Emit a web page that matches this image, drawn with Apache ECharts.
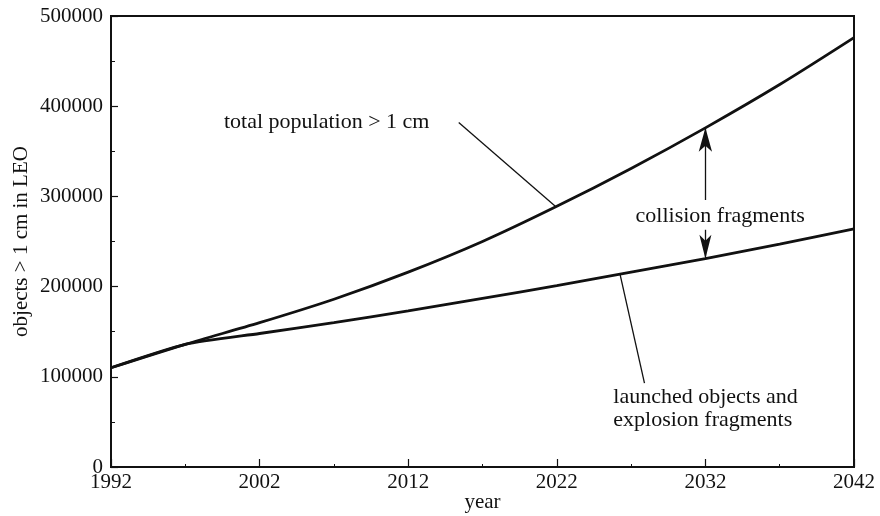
<!DOCTYPE html>
<html>
<head>
<meta charset="utf-8">
<script src="https://cdn.jsdelivr.net/npm/echarts@6/dist/echarts.min.js"></script>
<style>
  html, body { margin: 0; padding: 0; background: #fff; }
  #chart { width: 880px; height: 516px; }
</style>
</head>
<body>
<div id="chart"></div>
<script>
// Debris population in low Earth orbit, objects larger than 1 cm
const years = [1992, 1997, 2002, 2007, 2012, 2017, 2022, 2027, 2032, 2037, 2042];
const totalPopulation = [110000, 136000, 160000, 186000, 216000, 250000, 289000, 331000, 376000, 424000, 476000];
const launchedAndExplosion = [110000, 136000, 148000, 160000, 173000, 187000, 201000, 216000, 231000, 247000, 264000];
const yearTicks = [1992, 2002, 2012, 2022, 2032, 2042];
const valueTicks = [0, 100000, 200000, 300000, 400000, 500000];

const startYear = yearTicks[0];
const endYear = yearTicks[yearTicks.length - 1];
const toX = y => y - startYear; // axis runs in years since the first tick

const font = 'Liberation Serif, Times New Roman, serif';
const ink = '#111';

const pairs = arr => years.map((y, i) => [toX(y), arr[i]]);
const at = (arr, year) => arr[years.indexOf(year)];

const chart = echarts.init(document.getElementById('chart'), null, { renderer: 'canvas' });

const tickText = { color: ink, fontFamily: font, fontSize: 21 };
const noteText = { color: ink, fontFamily: font, fontSize: 22 };

chart.setOption({
  animation: false,
  backgroundColor: '#fff',
  grid: {
    left: 111, right: 26, top: 16, bottom: 49,
    containLabel: false,
    outerBoundsMode: 'none',
    show: true, borderColor: ink, borderWidth: 2, backgroundColor: 'transparent'
  },
  xAxis: {
    type: 'value',
    min: 0, max: toX(endYear), interval: 10,
    name: 'year', nameLocation: 'middle', nameGap: 25, nameMoveOverlap: false,
    nameTextStyle: tickText,
    axisLine: { show: true, lineStyle: { color: ink, width: 2 } },
    axisTick: { show: true, inside: true, length: 8, lineStyle: { color: ink, width: 1.2 } },
    minorTick: { show: true, splitNumber: 2, length: 3, lineStyle: { color: ink, width: 1 } },
    axisLabel: { ...tickText, margin: 5, formatter: v => String(v + startYear) },
    splitLine: { show: false }
  },
  yAxis: {
    type: 'value',
    min: valueTicks[0], max: valueTicks[valueTicks.length - 1], interval: 100000,
    name: 'objects > 1 cm in LEO', nameLocation: 'middle', nameGap: 79, nameMoveOverlap: false,
    nameTextStyle: tickText,
    axisLine: { show: true, lineStyle: { color: ink, width: 2 } },
    axisTick: { show: true, inside: true, length: 7, lineStyle: { color: ink, width: 1.2 } },
    minorTick: { show: true, splitNumber: 2, length: 4, lineStyle: { color: ink, width: 1 } },
    axisLabel: { ...tickText, margin: 8, formatter: v => String(v) },
    splitLine: { show: false }
  },
  series: [
    {
      name: 'total population > 1 cm',
      type: 'line',
      data: pairs(totalPopulation),
      smooth: 0.3,
      showSymbol: false,
      lineStyle: { color: ink, width: 2.8 },
      markLine: {
        silent: true,
        animation: false,
        label: { show: false },
        lineStyle: { color: ink, width: 1.3, type: 'solid' },
        symbol: ['none', 'none'],
        data: [
          // leader from the label to the curve
          [{ coord: [toX(2015.4), 382000] }, { coord: [toX(2021.9), 289000] }],
          // collision fragments span, upper arrow
          [{ coord: [toX(2032), 296000], symbol: 'none' },
           { coord: [toX(2032), at(totalPopulation, 2032)], symbol: 'arrow', symbolSize: [10, 24] }],
          // collision fragments span, lower arrow
          [{ coord: [toX(2032), 263000], symbol: 'none' },
           { coord: [toX(2032), at(launchedAndExplosion, 2032)], symbol: 'arrow', symbolSize: [9, 24] }]
        ]
      },
      markPoint: {
        silent: true,
        symbol: 'circle', symbolSize: 0,
        label: { show: true, position: 'right', distance: 0, ...noteText },
        data: [
          { coord: [toX(1999.6), 382500], label: { formatter: 'total population > 1 cm' } },
          { coord: [toX(2027.3), 278000], label: { formatter: 'collision fragments' } }
        ]
      }
    },
    {
      name: 'launched objects and explosion fragments',
      type: 'line',
      data: pairs(launchedAndExplosion),
      smooth: 0.2,
      showSymbol: false,
      lineStyle: { color: ink, width: 2.8 },
      markLine: {
        silent: true,
        animation: false,
        label: { show: false },
        lineStyle: { color: ink, width: 1.3, type: 'solid' },
        symbol: ['none', 'none'],
        data: [
          [{ coord: [toX(2026.25), 214000] }, { coord: [toX(2027.9), 93000] }]
        ]
      },
      markPoint: {
        silent: true,
        symbol: 'circle', symbolSize: 0,
        label: { show: true, position: 'right', distance: 0, ...noteText, lineHeight: 23 },
        data: [
          { coord: [toX(2025.8), 65000], label: { formatter: 'launched objects and\nexplosion fragments' } }
        ]
      }
    }
  ]
});
</script>
</body>
</html>
